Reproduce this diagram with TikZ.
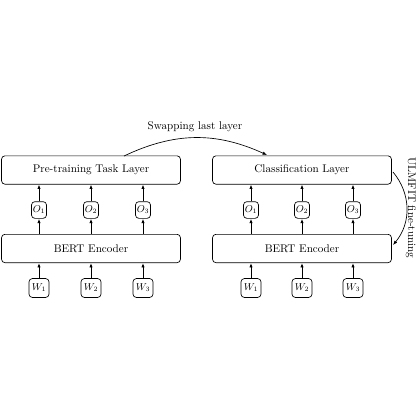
\documentclass[tikz,border=0pt]{standalone}
\usetikzlibrary{arrows.meta}
\begin{document}
\begin{tikzpicture}[x=0.9pt,y=-0.9pt,
  bigbox/.style={draw,semithick,rounded corners=3pt,minimum width=161pt,minimum height=25.5pt,inner sep=0pt},
  obox/.style={draw,semithick,rounded corners=3pt,minimum width=13.5pt,minimum height=15pt,inner sep=1pt,font=\small},
  wbox/.style={draw,semithick,rounded corners=3pt,minimum width=18pt,minimum height=17pt,inner sep=1pt,font=\small},
  arr/.style={-{Latex[length=4pt,width=3pt]},thick}]
\useasboundingbox (0,0) rectangle (420,420);
% left column
\node[bigbox] (pt) at (91,170) {Pre-training Task Layer};
\node[bigbox] (be1) at (91,248.5) {BERT Encoder};
\foreach \i/\x in {1/39,2/91,3/143}{
  \node[obox] (lo\i) at (\x,210) {$O_\i$};
  \node[wbox] (lw\i) at (\x,288) {$W_\i$};
  \draw[arr] (lw\i) -- (lw\i |- be1.south);
  \draw[arr] (lo\i |- be1.north) -- (lo\i);
  \draw[arr] (lo\i) -- (lo\i |- pt.south);
}
% right column
\node[bigbox] (cl) at (302,170) {Classification Layer};
\node[bigbox] (be2) at (302,248.5) {BERT Encoder};
\foreach \i/\x in {1/251,2/302,3/353}{
  \node[obox] (ro\i) at (\x,210) {$O_\i$};
  \node[wbox] (rw\i) at (\x,288) {$W_\i$};
  \draw[arr] (rw\i) -- (rw\i |- be2.south);
  \draw[arr] (ro\i |- be2.north) -- (ro\i);
  \draw[arr] (ro\i) -- (ro\i |- cl.south);
}
\coordinate (s1) at (124,156);
\coordinate (s2) at (267,155);
\draw[arr,semithick] (s1) to[bend left=25] (s2);
\node (swl) at (195,127) {Swapping last layer};
\coordinate (u1) at (393,172);
\coordinate (u2) at (393,245);
\draw[arr,semithick] (u1) to[bend left=40] (u2);
\node[rotate=-90] (ul) at (411,208) {ULMFIT fine-tuning};
\end{tikzpicture}
\end{document}
